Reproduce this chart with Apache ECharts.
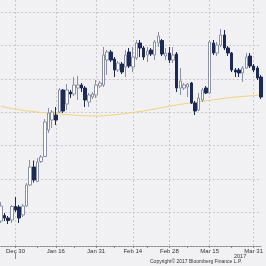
<!DOCTYPE html>
<html>
<head>
<meta charset="utf-8">
<script src="https://cdn.jsdelivr.net/npm/echarts@6/dist/echarts.min.js"></script>
<style>
html,body{margin:0;padding:0;background:#f1f1f3;}
#c{width:266px;height:266px;}
</style>
</head>
<body>
<div id="c"></div>
<script>
// Weekday categories (Dec 26, 2016 .. Apr 4, 2017)
var categories = ['Dec 26','Dec 27','Dec 28','Dec 29','Dec 30',
 'Jan 2','Jan 3','Jan 4','Jan 5','Jan 6','Jan 9','Jan 10','Jan 11','Jan 12','Jan 13',
 'Jan 16','Jan 17','Jan 18','Jan 19','Jan 20','Jan 23','Jan 24','Jan 25','Jan 26','Jan 27',
 'Jan 30','Jan 31','Feb 1','Feb 2','Feb 3','Feb 6','Feb 7','Feb 8','Feb 9','Feb 10',
 'Feb 13','Feb 14','Feb 15','Feb 16','Feb 17','Feb 20','Feb 21','Feb 22','Feb 23','Feb 24',
 'Feb 27','Feb 28','Mar 1','Mar 2','Mar 3','Mar 6','Mar 7','Mar 8','Mar 9','Mar 10',
 'Mar 13','Mar 14','Mar 15','Mar 16','Mar 17','Mar 20','Mar 21','Mar 22','Mar 23','Mar 24',
 'Mar 27','Mar 28','Mar 29','Mar 30','Mar 31','Apr 3','Apr 4'];

// [open, close, low, high]
var ohlc = [
 [25,40,23,44],[30.5,28,25,33],[28,25.5,22,30],[26,39.5,23,41],[39.5,36,34,49],
 [39,28,23,41],[31,40,29,42],[40,61,39,63],[61,79,60,86],[79,66,63.5,85.5],
 [64.5,84,64,88],[84.5,89,83,91],[89.5,124,89,127],[116,133,113,138],[126,134,118,136],
 [131,126,121,139],[134,156,133,158],[156,135,133,157],[142,156,136,162],[154,152,148,156],
 [152,161,150,169],[158,161,146,170],[161,158,154,163],[158,146,139,160],[144,151,139,153],
 [149,152,147,154],[151,161,148,166],[160,163,158,165],[161,191,159,199],[186,194,171,196],
 [194,186,184,196],[187,176,169,189],[176,183,174,185],[182,174,172,184],[179,191,169,196],
 [194,180,178,198],[179,189,174,199],[188,203,186,206],[203,198,189,206],[198,189,186,200],
 [191,195,184,199],[196,192,190,198],[191,204,186,206],[203,210,199,214],[205.5,192,190,207],
 [190,193,186,198],[193,186,183,199],[186,191,183,199],[192,158,154,194],[158,165,151,178],
 [158,161,156,163],[159,162,149,163],[163,143,142,164],[143,135,131,145],[136,148,135,153],
 [146,156,144,158],[158,153,152,160],[153,204,152,206],[203,193,191,206],[193,201,190,204],
 [201,211,199,217],[211,198,196,216],[198,193,190,200],[193,176,174,194],[176,174,169,178],
 [176,173,169,178],[173,178,164,180],[178,189,177,193],[190,180,178,193],[180,176,174,182],
 [178,168,166,180],[169,149,147,171]
];

// long moving average
var movingAvg = [139.8,139,138.2,137.5,136.8,136.2,135.7,135.2,134.8,134.4,
 134,133.6,133.3,133,132.7,132.4,132,131.7,131.4,131.1,
 130.8,130.6,130.4,130.2,130.1,130,130,130.1,130.3,130.6,
 130.9,131.2,131.6,132,132.5,133,133.5,134,134.5,135.1,
 135.7,136.3,137,137.7,138.4,139.1,139.8,140.5,141.1,141.7,
 142.2,142.7,143.2,143.7,144.2,144.7,145.2,145.7,146.2,146.7,
 147.2,147.7,148.1,148.5,148.9,149.2,149.5,149.8,150.1,150.4,150.7,151];

var tickLabels = ['Dec 30','Jan 16','Jan 31','Feb 14','Feb 28','Mar 15','Mar 31'];
var minorTicks = ['Jan 9','Jan 23','Feb 7','Feb 20','Mar 7','Mar 23'];
var yearMarks = ['Dec 30'];

var chart = echarts.init(document.getElementById('c'), null, {renderer:'canvas'});
var FONT = 'Liberation Sans';
function isLabel(i, v){ return tickLabels.indexOf(categories[i]) >= 0; }
function isTick(i, v){ var c = categories[i]; return tickLabels.indexOf(c) >= 0 || minorTicks.indexOf(c) >= 0; }
function isYear(i, v){ return yearMarks.indexOf(categories[i]) >= 0; }

chart.setOption({
  animation: false,
  backgroundColor: '#f1f1f3',
  grid: {left: 0.85, right: 1.6, top: 0, bottom: 20, containLabel: false},
  xAxis: [{
    type: 'category',
    data: categories,
    boundaryGap: false,
    axisLine: {show: true, lineStyle: {color: '#8c8c8c', width: 1, type: [2, 1]}},
    axisTick: {show: true, interval: isTick, length: 2, lineStyle: {color: '#8c8c8c'}},
    axisLabel: {show: true, interval: isLabel, fontSize: 6, color: '#333', margin: 2, fontFamily: FONT},
    splitLine: {show: true, interval: isLabel, lineStyle: {color: '#c9c9cd', width: 1, type: [2, 2]}}
  }, {
    type: 'category',
    data: categories,
    boundaryGap: false,
    position: 'bottom',
    offset: 7,
    axisLine: {show: false},
    axisTick: {show: true, interval: isYear, length: 6, lineStyle: {color: '#8c8c8c'}},
    axisLabel: {show: false},
    splitLine: {show: false}
  }],
  yAxis: {
    type: 'value',
    min: 0, max: 246, interval: 33.43,
    axisLine: {show: false}, axisTick: {show: false}, axisLabel: {show: false},
    splitLine: {show: true, showMinLine: false, showMaxLine: false,
      lineStyle: {color: '#c9c9cd', width: 1, type: [2, 2]}}
  },
  series: [{
    type: 'candlestick',
    data: ohlc,
    barWidth: 3,
    itemStyle: {
      color: '#ffffff', color0: '#1b2a57',
      borderColor: '#8a90a6', borderColor0: '#1b2a57', borderWidth: 1
    }
  }, {
    type: 'line',
    data: movingAvg,
    showSymbol: false,
    symbol: 'none',
    lineStyle: {color: '#efd27c', width: 1},
    z: 1
  }],
  graphic: [{
    type: 'text', left: 234, top: 253,
    style: {text: '2017', font: '5.5px "Liberation Sans"', fill: '#333'}
  }, {
    type: 'text', left: 150, top: 259,
    style: {text: 'Copyright© 2017 Bloomberg Finance L.P.', font: '5px "Liberation Sans"', fill: '#333'}
  }]
});
</script>
</body>
</html>
